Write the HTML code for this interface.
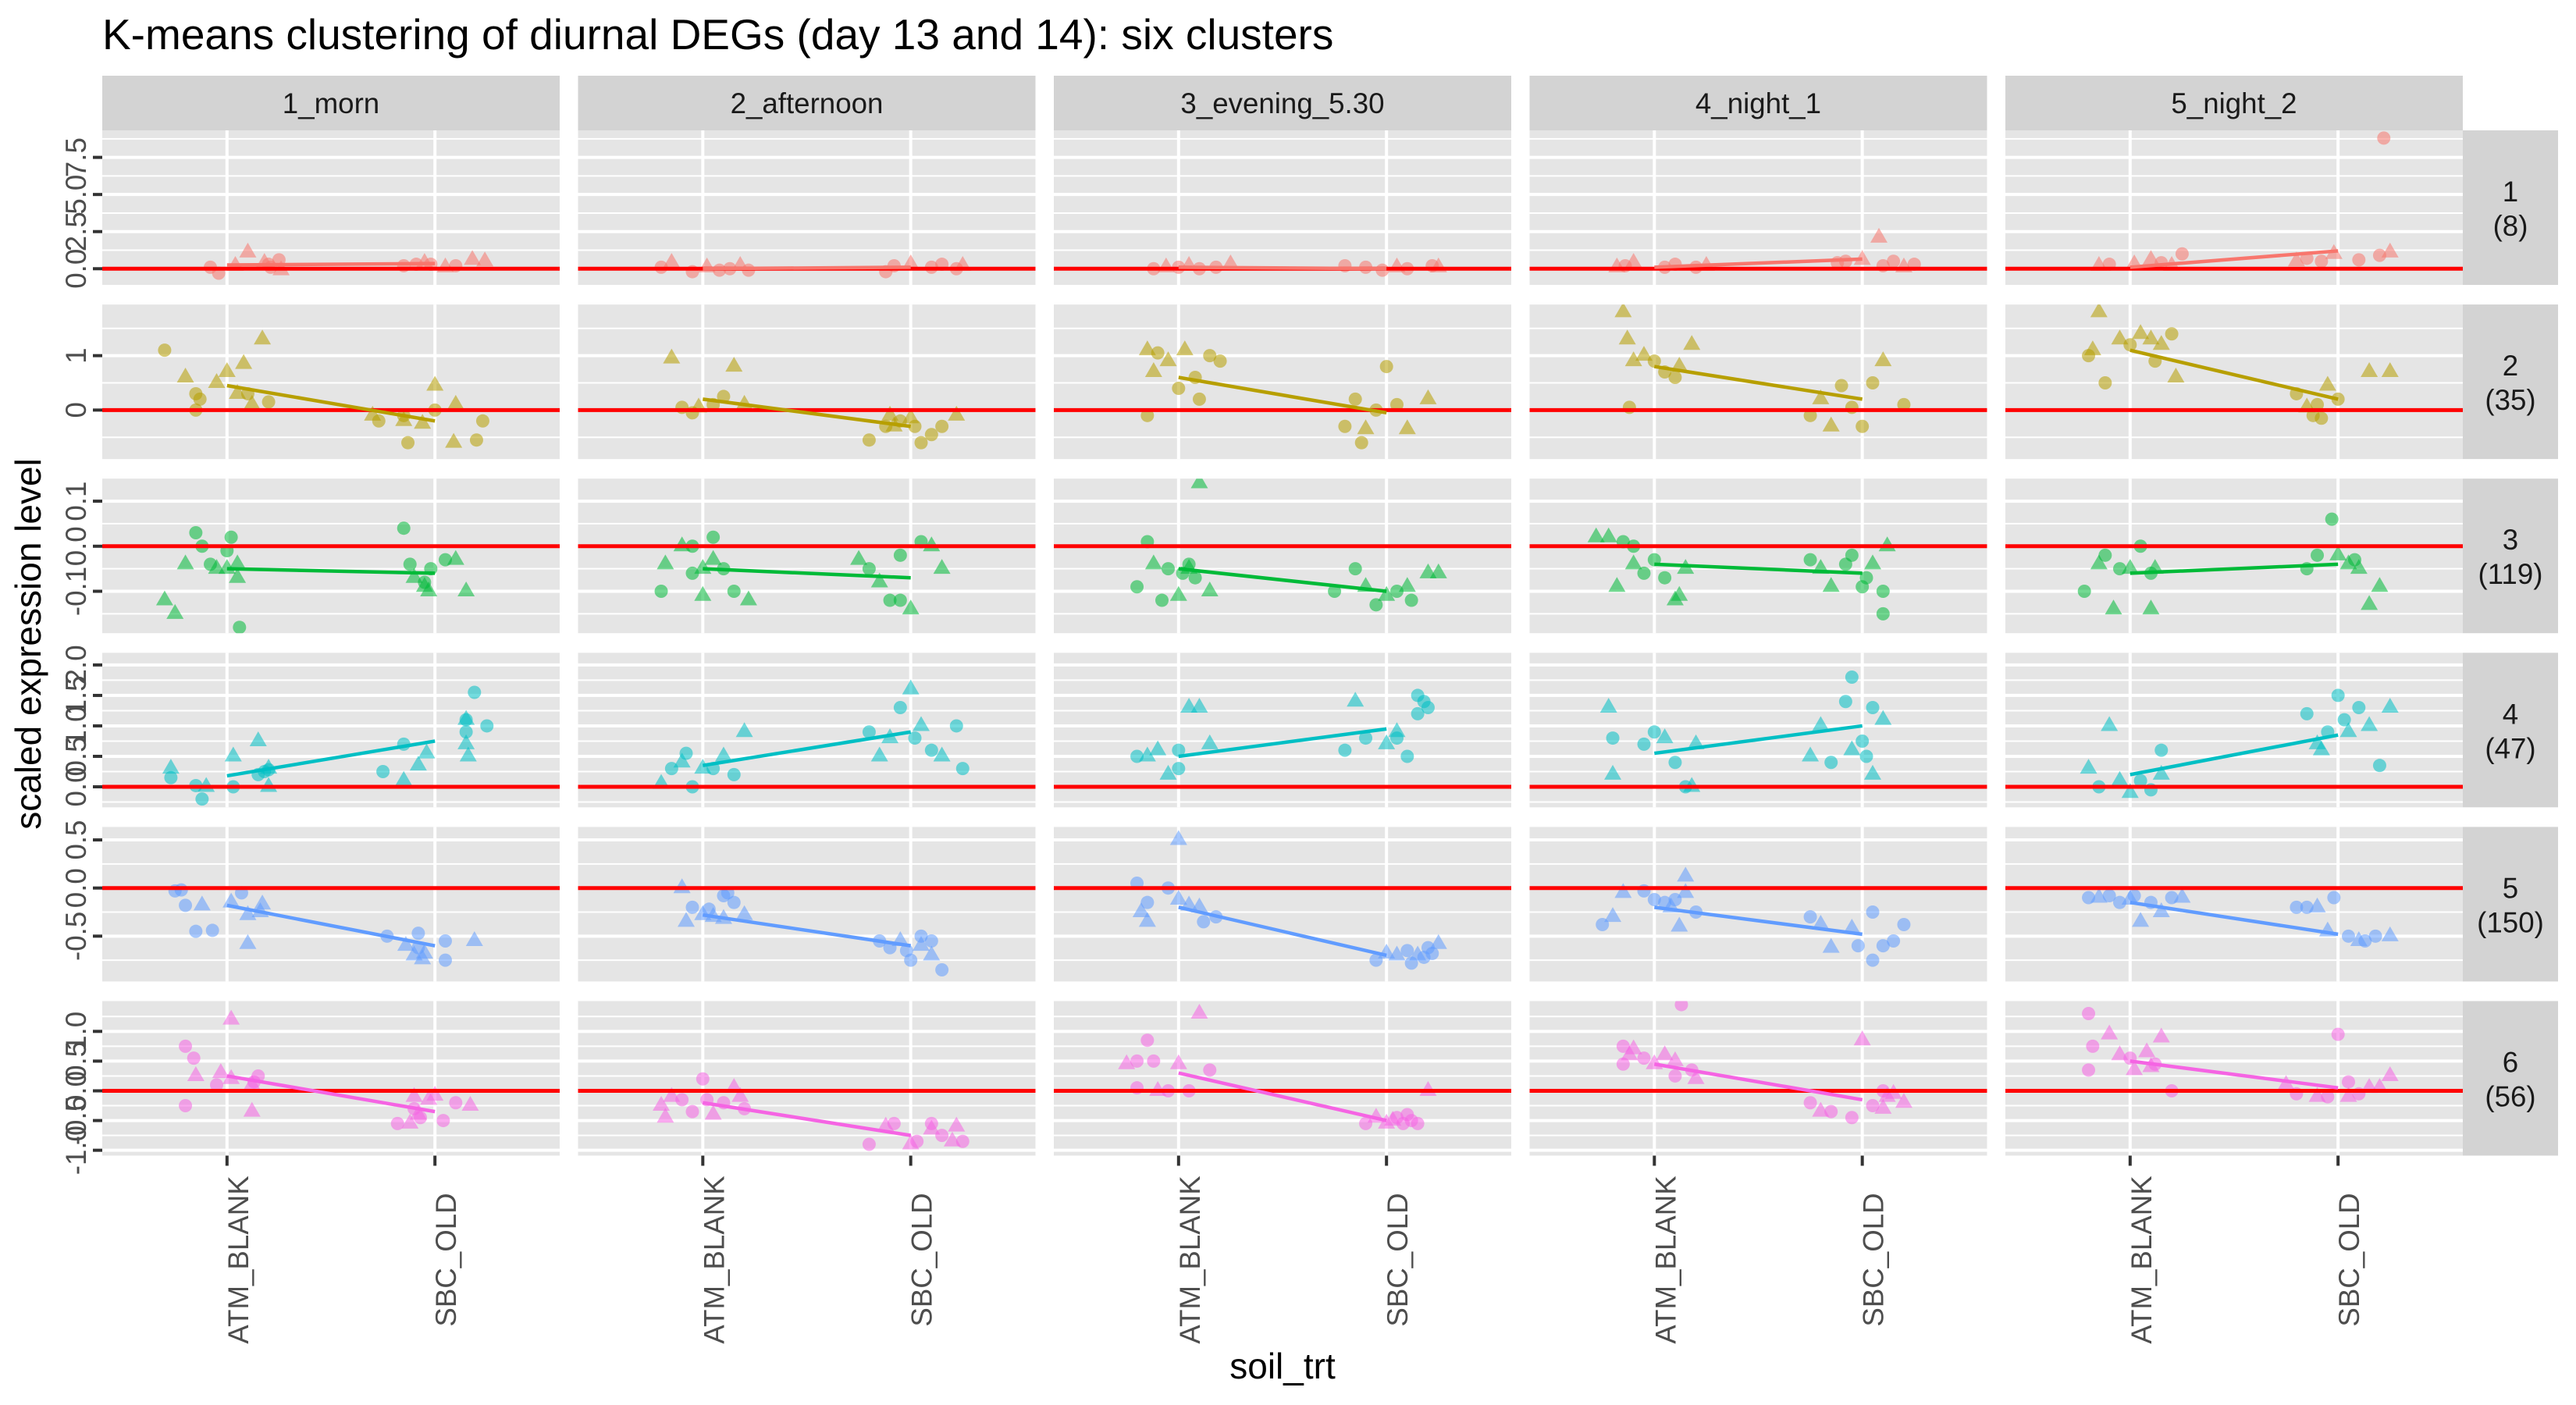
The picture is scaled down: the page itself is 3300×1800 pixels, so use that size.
<!DOCTYPE html>
<html><head><meta charset="utf-8"><title>K-means clustering</title>
<style>
html,body{margin:0;padding:0;background:#fff;}
svg{display:block;font-family:"Liberation Sans",Arial,sans-serif;}
</style></head>
<body>
<svg id="chart" width="3300" height="1800" viewBox="0 0 3300 1800" xmlns="http://www.w3.org/2000/svg">
<rect width="3300" height="1800" fill="#fff"/>
<text x="131" y="63" font-size="55" fill="#000">K-means clustering of diurnal DEGs (day 13 and 14): six clusters</text>
<text transform="translate(52,825) rotate(-90)" text-anchor="middle" font-size="46" fill="#000">scaled expression level</text>
<text x="1643" y="1766" text-anchor="middle" font-size="46" fill="#000">soil_trt</text>
<g id="panels"></g>
</svg>
<script>
// ---- data ----
const timepoints = ["1_morn","2_afternoon","3_evening_5.30","4_night_1","5_night_2"];
const clusterLabels = ["1","2","3","4","5","6"];
const clusterSizes = ["(8)","(35)","(119)","(47)","(150)","(56)"];
const categories = ["ATM_BLANK","SBC_OLD"];
const colors = ["#F8766D","#B79F00","#00BA38","#00BFC4","#619CFF","#F564E3"];
const yRanges = [[-1.09,9.32],[-0.9,1.94],[-0.193,0.150],[-0.337,2.20],[-0.971,0.635],[-1.09,1.51]];
const yTicks = [[0,2.5,5,7.5],[0,1],[-0.1,0,0.1],[0,0.5,1,1.5,2],[-0.5,0,0.5],[-1,-0.5,0,0.5,1]];
const yTickLabels = [["0.0","2.5","5.0","7.5"],["0","1"],["-0.1","0.0","0.1"],["0.0","0.5","1.0","1.5","2.0"],["-0.5","0.0","0.5"],["-1.0","-0.5","0.0","0.5","1.0"]];
const yMinor = [[-1.25,1.25,3.75,6.25,8.75],[-0.5,0.5,1.5],[-0.15,-0.05,0.05,0.15],[-0.25,0.25,0.75,1.25,1.75],[-0.75,-0.25,0.25],[-0.75,-0.25,0.25,0.75,1.25]];
// regression line values at ATM_BLANK and SBC_OLD, [row][col]
const lineATM = [[0.25,0.0,0.1,0.1,0.1],[0.45,0.2,0.6,0.8,1.1],[-0.05,-0.05,-0.05,-0.04,-0.06],[0.18,0.35,0.5,0.55,0.2],[-0.18,-0.28,-0.2,-0.2,-0.15],[0.25,-0.2,0.3,0.45,0.5]];
const lineSBC = [[0.35,0.1,0.0,0.65,1.2],[-0.2,-0.3,-0.05,0.2,0.2],[-0.06,-0.07,-0.1,-0.06,-0.04],[0.75,0.9,0.95,1.0,0.85],[-0.6,-0.6,-0.7,-0.48,-0.48],[-0.35,-0.75,-0.5,-0.15,0.05]];
// points: [jitter, value, shape(0 circle,1 triangle)]
const r1_atm = [
 [[-0.08,0.1,0],[-0.04,-0.3,0],[0.04,0.2,1],[0.1,1.1,1],[0.18,0.4,1],[0.21,0.1,0],[0.25,0.6,0],[0.26,-0.1,1],[0.2,0.3,0]],
 [[-0.2,0.1,0],[-0.15,0.4,1],[-0.05,-0.2,0],[0.02,0.1,1],[0.08,-0.1,0],[0.13,0.0,0],[0.18,0.2,1],[0.22,-0.1,0]],
 [[-0.12,0.0,0],[-0.06,0.1,1],[0.0,0.1,0],[0.05,0.2,1],[0.1,0.0,0],[0.18,0.1,0],[0.25,0.3,1]],
 [[-0.18,0.1,1],[-0.14,0.2,0],[-0.1,0.4,1],[0.05,0.1,0],[0.1,0.3,0],[0.2,0.1,0],[0.25,0.2,1]],
 [[-0.15,0.2,1],[-0.1,0.3,0],[0.02,0.3,1],[0.1,0.6,1],[0.15,0.4,0],[0.2,0.2,1],[0.25,1.0,0]]];
const r1_sbc = [
 [[-0.15,0.2,0],[-0.09,0.3,0],[-0.05,0.4,1],[-0.02,0.3,0],[0.05,0.1,1],[0.1,0.2,0],[0.18,0.6,1],[0.24,0.5,1]],
 [[-0.12,-0.2,0],[-0.08,0.2,0],[0.0,0.3,1],[0.1,0.1,0],[0.15,0.3,0],[0.22,0.0,0],[0.25,0.2,1]],
 [[-0.2,0.2,0],[-0.1,0.1,0],[-0.02,-0.1,0],[0.05,0.1,1],[0.1,0.0,0],[0.22,0.2,0],[0.25,0.1,1]],
 [[-0.12,0.4,0],[-0.08,0.5,0],[0.08,2.1,1],[0.1,0.2,0],[0.15,0.5,0],[0.2,0.1,1],[0.25,0.3,0],[0.0,0.6,1]],
 [[-0.2,0.5,1],[-0.15,0.7,0],[-0.08,0.5,0],[-0.02,1.0,1],[0.1,0.6,0],[0.2,0.9,0],[0.25,1.1,1],[0.22,8.8,0]]];
const r2_atm = [
 [[-0.3,1.1,0],[-0.2,0.6,1],[-0.15,0.3,0],[-0.13,0.2,0],[-0.15,0.0,0],[-0.05,0.5,1],[0.0,0.7,1],[0.05,0.3,1],[0.08,0.85,1],[0.1,0.3,0],[0.12,0.1,1],[0.17,1.3,1],[0.2,0.15,0]],
 [[-0.15,0.95,1],[-0.1,0.05,0],[-0.05,-0.05,0],[-0.02,0.05,1],[0.05,0.1,0],[0.1,0.25,0],[0.15,0.8,1],[0.2,0.1,1]],
 [[-0.15,1.1,1],[-0.12,0.7,1],[-0.1,1.05,0],[-0.05,0.9,1],[0.0,0.4,0],[0.03,1.1,1],[0.08,0.6,0],[0.1,0.2,0],[0.15,1.0,0],[-0.15,-0.1,0],[0.2,0.9,0]],
 [[-0.15,1.8,1],[-0.13,1.3,1],[-0.1,0.9,1],[-0.05,1.0,1],[-0.12,0.05,0],[0.0,0.9,0],[0.05,0.7,0],[0.1,0.6,0],[0.12,0.8,1],[0.18,1.2,1]],
 [[-0.2,1.0,0],[-0.18,1.1,1],[-0.15,1.8,1],[-0.12,0.5,0],[-0.05,1.3,1],[0.0,1.2,0],[0.05,1.4,1],[0.1,1.3,1],[0.12,0.9,0],[0.15,1.2,1],[0.2,1.4,0],[0.22,0.6,1]]];
const r2_sbc = [
 [[-0.3,-0.1,1],[-0.27,-0.2,0],[-0.15,-0.2,1],[-0.15,-0.1,0],[-0.13,-0.6,0],[-0.06,-0.25,1],[0.0,0.45,1],[0.0,0.0,0],[0.1,0.1,1],[0.09,-0.6,1],[0.2,-0.55,0],[0.23,-0.2,0]],
 [[-0.2,-0.55,0],[-0.12,-0.3,0],[-0.08,-0.3,1],[-0.05,-0.2,0],[0.0,-0.15,1],[0.02,-0.3,0],[0.05,-0.6,0],[0.1,-0.45,0],[0.15,-0.3,0],[0.22,-0.1,1],[-0.1,-0.1,1]],
 [[-0.2,-0.3,0],[-0.15,0.2,0],[-0.12,-0.6,0],[-0.05,0.0,0],[0.0,0.8,0],[0.05,0.1,0],[-0.1,-0.35,1],[0.1,-0.35,1],[0.2,0.2,1]],
 [[-0.25,-0.1,0],[-0.2,0.2,1],[-0.15,-0.3,1],[-0.1,0.45,0],[-0.05,0.05,0],[0.0,-0.3,0],[0.05,0.5,0],[0.1,0.9,1],[0.2,0.1,0]],
 [[-0.2,0.3,0],[-0.15,0.05,1],[-0.12,-0.1,0],[-0.1,0.1,0],[-0.08,-0.15,0],[-0.05,0.45,1],[0.0,0.2,0],[0.15,0.7,1],[0.25,0.7,1]]];
const r3_atm = [
 [[-0.3,-0.12,1],[-0.25,-0.15,1],[-0.2,-0.04,1],[-0.15,0.03,0],[-0.12,0.0,0],[-0.08,-0.04,0],[-0.05,-0.05,1],[0.0,-0.05,1],[0.02,0.02,0],[0.05,-0.04,1],[0.05,-0.07,1],[0.06,-0.18,0],[0.0,-0.01,0]],
 [[-0.2,-0.1,0],[-0.18,-0.04,1],[-0.1,0.0,1],[-0.05,0.0,0],[-0.05,-0.06,0],[0.0,-0.05,1],[0.05,0.02,0],[0.0,-0.11,1],[0.1,-0.05,0],[0.15,-0.1,0],[0.22,-0.12,1],[0.05,-0.03,1]],
 [[-0.2,-0.09,0],[-0.15,0.01,0],[-0.12,-0.04,1],[-0.05,-0.05,0],[0.0,-0.11,1],[0.02,-0.06,0],[0.05,-0.04,0],[0.08,-0.07,0],[0.1,0.14,1],[0.15,-0.1,1],[-0.08,-0.12,0],[0.05,-0.05,1]],
 [[-0.28,0.02,1],[-0.22,0.02,1],[-0.18,-0.09,1],[-0.15,0.01,0],[-0.1,0.0,0],[-0.05,-0.06,0],[0.0,-0.03,0],[0.05,-0.07,0],[0.1,-0.12,1],[0.12,-0.11,1],[0.15,-0.05,1],[-0.1,-0.04,1]],
 [[-0.22,-0.1,0],[-0.15,-0.04,1],[-0.12,-0.02,0],[-0.08,-0.14,1],[-0.05,-0.05,0],[0.0,-0.05,1],[0.05,0.0,0],[0.1,-0.14,1],[0.1,-0.06,0],[0.12,-0.05,1]]];
const r3_sbc = [
 [[-0.15,0.04,0],[-0.12,-0.04,0],[-0.1,-0.07,1],[-0.05,-0.09,1],[-0.05,-0.08,0],[-0.02,-0.05,0],[-0.03,-0.1,1],[0.05,-0.03,0],[0.1,-0.03,1],[0.15,-0.1,1]],
 [[-0.25,-0.03,1],[-0.2,-0.05,0],[-0.15,-0.08,1],[-0.1,-0.12,0],[-0.05,-0.02,0],[0.0,-0.14,1],[0.05,0.01,0],[0.1,0.0,1],[-0.05,-0.12,0],[0.15,-0.05,1]],
 [[-0.25,-0.1,0],[-0.1,-0.09,1],[-0.05,-0.13,0],[0.0,-0.11,1],[0.05,-0.1,0],[0.1,-0.09,1],[0.12,-0.12,0],[0.2,-0.06,1],[0.25,-0.06,1],[-0.15,-0.05,0]],
 [[-0.25,-0.03,0],[-0.2,-0.05,1],[-0.15,-0.09,1],[-0.08,-0.04,0],[-0.05,-0.02,0],[0.0,-0.09,0],[0.02,-0.07,0],[0.05,-0.04,1],[0.1,-0.1,0],[0.12,0.0,1],[0.1,-0.15,0]],
 [[-0.15,-0.05,0],[-0.1,-0.02,0],[-0.03,0.06,0],[0.0,-0.02,1],[0.05,-0.04,1],[0.1,-0.05,1],[0.15,-0.13,1],[0.2,-0.09,1],[0.08,-0.03,0]]];
const r4_atm = [
 [[-0.27,0.3,1],[-0.27,0.15,0],[-0.15,0.02,0],[-0.12,-0.2,0],[-0.1,0.0,1],[0.03,0.5,1],[0.03,0.0,0],[0.15,0.2,0],[0.18,0.25,0],[0.2,0.3,1],[0.2,0.0,1],[0.15,0.75,1],[0.2,0.28,0]],
 [[-0.2,0.05,1],[-0.15,0.3,0],[-0.1,0.4,1],[-0.05,0.0,0],[0.0,0.3,1],[0.05,0.3,0],[0.1,0.5,1],[0.15,0.2,0],[0.2,0.9,1],[-0.08,0.55,0]],
 [[-0.2,0.5,0],[-0.15,0.5,1],[-0.1,0.6,1],[-0.05,0.2,1],[0.0,0.3,0],[0.05,1.3,1],[0.1,1.3,1],[0.15,0.7,1],[0.0,0.6,0]],
 [[-0.22,1.3,1],[-0.2,0.8,0],[-0.2,0.2,1],[-0.05,0.7,0],[0.0,0.9,0],[0.05,0.8,1],[0.1,0.4,0],[0.15,0.0,0],[0.18,0.0,1],[0.2,0.7,1]],
 [[-0.2,0.3,1],[-0.15,0.0,0],[-0.1,1.0,1],[-0.05,0.1,1],[0.0,-0.1,1],[0.05,0.1,0],[0.1,-0.05,0],[0.15,0.6,0],[0.15,0.2,1]]];
const r4_sbc = [
 [[-0.25,0.25,0],[-0.15,0.7,0],[-0.15,0.1,1],[-0.08,0.35,1],[-0.04,0.55,1],[0.15,1.1,1],[0.15,0.9,0],[0.15,0.7,1],[0.15,1.1,0],[0.25,1.0,0],[0.19,1.55,0],[0.16,0.5,1]],
 [[-0.2,0.9,0],[-0.15,0.5,1],[-0.1,0.8,1],[-0.05,1.3,0],[0.0,1.6,1],[0.02,0.8,0],[0.05,1.0,1],[0.1,0.6,0],[0.15,0.5,1],[0.22,1.0,0],[0.25,0.3,0]],
 [[-0.2,0.6,0],[-0.15,1.4,1],[-0.1,0.8,0],[0.0,0.7,1],[0.05,0.9,1],[0.1,0.5,0],[0.15,1.2,0],[0.18,1.4,0],[0.2,1.3,0],[0.15,1.5,0],[0.05,0.8,0]],
 [[-0.25,0.5,1],[-0.2,1.0,1],[-0.15,0.4,0],[-0.08,1.4,0],[-0.05,1.8,0],[0.0,0.75,0],[0.02,0.5,0],[0.05,1.3,0],[0.05,0.2,1],[0.1,1.1,1],[-0.05,0.6,1]],
 [[-0.15,1.2,0],[-0.1,0.7,1],[-0.05,0.9,0],[0.0,1.5,0],[0.03,1.1,0],[0.05,0.9,1],[0.1,1.3,0],[0.15,1.0,1],[0.2,0.35,0],[0.25,1.3,1],[-0.08,0.6,1]]];
const r5_atm = [
 [[-0.25,-0.03,0],[-0.22,-0.02,0],[-0.2,-0.18,0],[-0.12,-0.18,1],[-0.15,-0.45,0],[-0.07,-0.44,0],[0.02,-0.15,1],[0.07,-0.05,0],[0.1,-0.28,1],[0.17,-0.17,1],[0.1,-0.58,1],[0.16,-0.25,1]],
 [[-0.1,0.0,1],[-0.05,-0.2,0],[0.0,-0.28,1],[0.03,-0.22,0],[0.05,-0.3,1],[0.1,-0.08,0],[0.15,-0.15,0],[0.2,-0.28,1],[-0.08,-0.35,1],[0.1,-0.32,1],[0.12,-0.05,0]],
 [[-0.2,0.05,0],[-0.15,-0.15,0],[-0.18,-0.25,1],[-0.15,-0.35,1],[-0.05,0.0,0],[0.0,0.5,1],[0.0,-0.12,1],[0.05,-0.18,1],[0.1,-0.2,1],[0.12,-0.35,0],[0.18,-0.3,0]],
 [[-0.25,-0.38,0],[-0.2,-0.3,1],[-0.15,-0.05,1],[-0.05,-0.03,0],[0.0,-0.12,0],[0.05,-0.15,0],[0.1,-0.12,0],[0.15,-0.05,1],[0.15,0.12,1],[0.2,-0.25,0],[0.08,-0.2,1],[0.12,-0.4,1]],
 [[-0.2,-0.1,0],[-0.15,-0.1,1],[-0.1,-0.08,0],[-0.05,-0.15,0],[0.0,-0.12,1],[0.02,-0.08,0],[0.05,-0.35,1],[0.1,-0.15,0],[0.15,-0.25,1],[0.2,-0.1,0],[0.25,-0.1,1]]];
const r5_sbc = [
 [[-0.23,-0.5,0],[-0.14,-0.6,1],[-0.1,-0.7,1],[-0.08,-0.47,0],[-0.08,-0.62,0],[-0.05,-0.68,1],[-0.06,-0.74,1],[0.05,-0.55,0],[0.05,-0.75,0],[0.19,-0.55,1]],
 [[-0.15,-0.55,0],[-0.05,-0.55,1],[-0.02,-0.65,0],[0.0,-0.75,0],[0.05,-0.6,1],[0.05,-0.5,0],[0.1,-0.7,1],[0.1,-0.55,0],[0.15,-0.85,0],[-0.1,-0.62,0]],
 [[-0.05,-0.75,0],[0.0,-0.68,1],[0.05,-0.7,1],[0.1,-0.65,0],[0.15,-0.7,1],[0.2,-0.62,0],[0.22,-0.68,0],[0.25,-0.58,1],[0.12,-0.78,0],[0.18,-0.72,0]],
 [[-0.25,-0.3,0],[-0.2,-0.38,1],[-0.15,-0.62,1],[-0.05,-0.42,1],[-0.02,-0.6,0],[0.05,-0.75,0],[0.1,-0.6,0],[0.15,-0.55,0],[0.2,-0.38,0],[0.05,-0.25,0]],
 [[-0.2,-0.2,0],[-0.15,-0.2,0],[-0.1,-0.2,1],[-0.05,-0.45,1],[-0.02,-0.1,0],[0.05,-0.5,0],[0.1,-0.55,1],[0.13,-0.55,0],[0.18,-0.5,0],[0.25,-0.5,1]]];
const r6_atm = [
 [[-0.2,0.75,0],[-0.2,-0.25,0],[-0.16,0.55,0],[-0.15,0.25,1],[-0.05,0.1,0],[-0.03,0.3,1],[0.02,1.2,1],[0.02,0.2,1],[0.12,0.1,1],[0.13,0.15,0],[0.15,0.25,0],[0.12,-0.35,1]],
 [[-0.2,-0.25,1],[-0.18,-0.45,1],[-0.15,-0.1,1],[-0.1,-0.15,0],[-0.05,-0.35,0],[0.0,0.2,0],[0.02,-0.15,0],[0.05,-0.4,1],[0.1,-0.2,0],[0.15,0.05,1],[0.2,-0.3,0],[0.18,-0.1,1]],
 [[-0.25,0.45,1],[-0.2,0.05,0],[-0.2,0.5,0],[-0.15,0.85,0],[-0.1,0.0,1],[-0.05,0.0,0],[0.0,0.45,1],[0.05,0.0,0],[0.1,1.3,1],[0.15,0.35,0],[-0.12,0.5,0]],
 [[-0.15,0.75,0],[-0.12,0.6,1],[-0.1,0.7,1],[-0.15,0.45,0],[-0.05,0.55,0],[0.0,0.45,1],[0.05,0.6,1],[0.1,0.25,0],[0.1,0.5,1],[0.13,1.45,0],[0.18,0.35,0],[0.2,0.2,1]],
 [[-0.2,1.3,0],[-0.2,0.35,0],[-0.18,0.75,0],[-0.1,0.95,1],[-0.05,0.6,1],[0.0,0.55,0],[0.02,0.35,1],[0.08,0.65,1],[0.1,0.4,1],[0.15,0.9,1],[0.2,0.0,0],[0.12,0.45,0]]];
const r6_sbc = [
 [[-0.18,-0.55,0],[-0.12,-0.55,1],[-0.1,-0.3,0],[-0.1,-0.1,1],[-0.08,-0.4,1],[-0.07,-0.45,0],[-0.03,-0.15,1],[0.0,-0.08,1],[0.04,-0.5,0],[0.1,-0.2,0],[0.17,-0.25,1]],
 [[-0.2,-0.9,0],[-0.12,-0.6,1],[-0.08,-0.55,0],[0.0,-0.9,1],[0.03,-0.85,0],[0.1,-0.65,1],[0.15,-0.75,0],[0.2,-0.85,1],[0.22,-0.6,1],[0.25,-0.85,0],[0.1,-0.55,0]],
 [[-0.1,-0.55,0],[-0.05,-0.45,1],[0.0,-0.55,1],[0.05,-0.45,0],[0.08,-0.55,0],[0.12,-0.5,0],[0.15,-0.55,0],[0.2,0.0,1],[0.1,-0.4,0],[0.03,-0.5,1]],
 [[-0.25,-0.2,0],[-0.2,-0.35,1],[-0.15,-0.35,0],[-0.05,-0.45,0],[0.0,0.85,1],[0.05,-0.25,0],[0.1,-0.3,1],[0.1,0.0,0],[0.12,-0.1,1],[0.15,-0.05,1],[0.2,-0.2,1]],
 [[-0.25,0.1,1],[-0.2,-0.05,0],[-0.1,-0.1,1],[-0.05,-0.1,0],[0.0,0.95,0],[0.05,0.15,0],[0.1,-0.05,0],[0.15,0.05,1],[0.2,0.05,1],[0.25,0.25,1],[0.05,-0.1,1]]];

const atmByRow = [r1_atm,r2_atm,r3_atm,r4_atm,r5_atm,r6_atm];
const sbcByRow = [r1_sbc,r2_sbc,r3_sbc,r4_sbc,r5_sbc,r6_sbc];

// ---- layout ----
const NS = "http://www.w3.org/2000/svg";
const root = document.getElementById('panels');
const L0 = 131, PW = 586, CP = 609.5, T0 = 167, PH = 198, RP = 223.1;
const PBOT = T0 + 5*RP + PH;
function el(tag, attrs, parent){ const e=document.createElementNS(NS,tag); for(const k in attrs) e.setAttribute(k,attrs[k]); (parent||root).appendChild(e); return e; }
function xScale(col, v){ return L0 + col*CP + (v-0.4)/2.2*PW; }
function yScale(row, v){ const r=yRanges[row]; return T0 + row*RP + (r[1]-v)/(r[1]-r[0])*PH; }

timepoints.forEach((t,c)=>{
  const x = L0 + c*CP;
  const s = el('rect',{x:x,y:97,width:PW,height:70,fill:'#d3d3d3'});
  
  
  const tx = el('text',{x:x+PW/2,y:145,'text-anchor':'middle','font-size':'36.7',fill:'#1a1a1a'});
  tx.textContent = t;
  
  
});

for(let r=0;r<6;r++){
  const top = T0 + r*RP;
  const rs = el('rect',{x:3155,y:top,width:122,height:PH,fill:'#d3d3d3'});
  
  
  const t1 = el('text',{x:3216,y:top+PH/2-8,'text-anchor':'middle','font-size':'36.7',fill:'#1a1a1a'});
  t1.textContent = clusterLabels[r];
  
  
  const t2 = el('text',{x:3216,y:top+PH/2+36,'text-anchor':'middle','font-size':'36.7',fill:'#1a1a1a'});
  t2.textContent = clusterSizes[r];
  
  

  yTicks[r].forEach((v,i)=>{
    const y = yScale(r,v);
    const tk = el('line',{x1:119,x2:131,y1:y,y2:y,stroke:'#333',"stroke-width":4});
    
    
    const lb = el('text',{transform:`translate(110,${y}) rotate(-90)`,'text-anchor':'middle','font-size':'36.7',fill:'#4d4d4d'});
    lb.textContent = yTickLabels[r][i];
    
    
  });

  for(let c=0;c<5;c++){
    const left = L0 + c*CP;
    const g = el('g',{});
    
    
    el('rect',{x:left,y:top,width:PW,height:PH,fill:'#e5e5e5'},g);
    const clip = 'clip'+r+'_'+c;
    const cp = el('clipPath',{id:clip},g); el('rect',{x:left,y:top,width:PW,height:PH},cp);
    yMinor[r].forEach(v=>{ const y=yScale(r,v); if(y>top&&y<top+PH) el('line',{x1:left,x2:left+PW,y1:y,y2:y,stroke:'#fff','stroke-width':2},g); });
    yTicks[r].forEach(v=>{ const y=yScale(r,v); el('line',{x1:left,x2:left+PW,y1:y,y2:y,stroke:'#fff','stroke-width':4},g); });
    [1,2].forEach(v=>{ const x=xScale(c,v); el('line',{x1:x,x2:x,y1:top,y2:top+PH,stroke:'#fff','stroke-width':4},g); });
    const pg = el('g',{'clip-path':`url(#${clip})`,fill:colors[r],'fill-opacity':0.55},g);
    const drawPts = (list, base) => list.forEach(p=>{
      const x = xScale(c, base+p[0]), y = yScale(r, p[1]);
      let m;
      if(p[2]===0){ m = el('circle',{cx:x,cy:y,r:8.5},pg); }
      else { m = el('path',{d:`M${x},${y-12.5}L${x+11},${y+6.5}L${x-11},${y+6.5}Z`},pg); }
      
      
    });
    drawPts(atmByRow[r][c],1);
    drawPts(sbcByRow[r][c],2);
    const h = el('line',{x1:left,x2:left+PW,y1:yScale(r,0),y2:yScale(r,0),stroke:'#ff0000','stroke-width':5},g);
    
    
    const rl = el('line',{x1:xScale(c,1),y1:yScale(r,lineATM[r][c]),x2:xScale(c,2),y2:yScale(r,lineSBC[r][c]),stroke:colors[r],'stroke-width':4.5},g);
    
    
  }
}
for(let c=0;c<5;c++){
  categories.forEach((cat,i)=>{
    const x = xScale(c,i+1);
    const tk = el('line',{x1:x,x2:x,y1:PBOT,y2:PBOT+13,stroke:'#333','stroke-width':4});
    
    
    const lb = el('text',{transform:`translate(${x+27},1614) rotate(-90)`,'text-anchor':'middle','font-size':'36.7',fill:'#4d4d4d'});
    lb.textContent = cat;
    
    
  });
}
</script>
</body></html>
